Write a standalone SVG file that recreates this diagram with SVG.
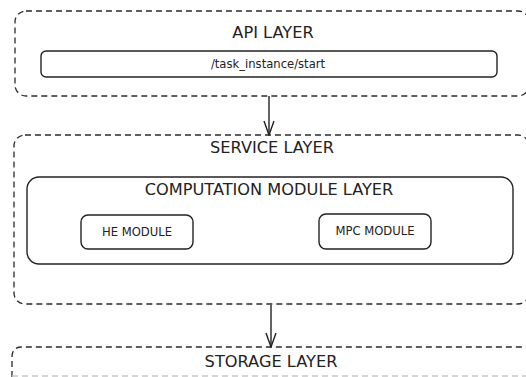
<svg xmlns="http://www.w3.org/2000/svg" width="526" height="377" viewBox="0 0 526 377">
  <style>
    .layer { fill: none; stroke: #2a2a2a; stroke-width: 1.3; stroke-dasharray: 6 4; }
    .box { fill: #ffffff; stroke: #222222; stroke-width: 1.4; }
    .edge { fill: none; stroke: #222222; stroke-width: 1.4; }
    .title { font-family: "DejaVu Sans", sans-serif; font-size: 16.2px; fill: #222222; text-anchor: middle; }
    .label { font-family: "DejaVu Sans", sans-serif; font-size: 11.6px; fill: #222222; text-anchor: middle; }
  </style>
  <defs>
    <!-- open V arrowhead, drawn along +x so orient="auto" follows the line -->
    <marker id="open-arrow" viewBox="0 0 16 12" refX="15" refY="6" markerWidth="16" markerHeight="12" markerUnits="userSpaceOnUse" orient="auto">
      <path d="M1 1 L15 6 L1 11" fill="none" stroke="#222222" stroke-width="1.4"/>
    </marker>
  </defs>
  <rect width="526" height="377" fill="#ffffff"/>

  <g id="api-layer">
    <rect class="layer" x="15" y="11" width="514" height="85" rx="11"/>
    <text class="title" x="273" y="38">API LAYER</text>
  </g>
  <g id="task-start-endpoint">
    <rect class="box" x="41" y="51" width="456" height="26" rx="5"/>
    <text class="label" x="268" y="68">/task_instance/start</text>
  </g>

  <g id="service-layer">
    <rect class="layer" x="14" y="135" width="515" height="169" rx="11"/>
    <text class="title" x="272" y="153">SERVICE LAYER</text>
  </g>
  <g id="computation-module-layer">
    <rect class="box" x="27" y="177" width="486" height="87" rx="12"/>
    <text class="title" x="269" y="195">COMPUTATION MODULE LAYER</text>
  </g>
  <g id="he-module">
    <rect class="box" x="81" y="215" width="112" height="34" rx="7"/>
    <text class="label" x="137" y="236">HE MODULE</text>
  </g>
  <g id="mpc-module">
    <rect class="box" x="319" y="214" width="112" height="35" rx="7"/>
    <text class="label" x="375" y="235">MPC MODULE</text>
  </g>

  <g id="storage-layer">
    <path class="layer" d="M12 377 L12 357 Q12 347 22 347 L529 347"/>
    <line x1="12" y1="376" x2="526" y2="376" stroke="#c8c8c8" stroke-width="1.3" stroke-dasharray="6 4"/>
    <text class="title" x="271" y="367">STORAGE LAYER</text>
  </g>

  <g id="connectors">
    <line class="edge" x1="269" y1="96" x2="269" y2="135" marker-end="url(#open-arrow)"/>
    <line class="edge" x1="271" y1="305" x2="271" y2="347" marker-end="url(#open-arrow)"/>
  </g>
</svg>
